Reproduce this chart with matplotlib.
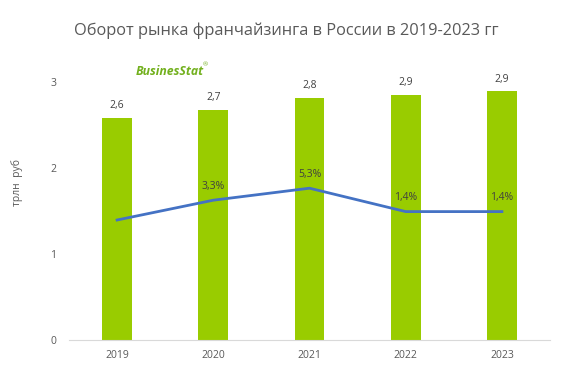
import numpy as np
import matplotlib.pyplot as plt

years = ['2019', '2020', '2021', '2022', '2023']
turnover = [2.58, 2.67, 2.81, 2.85, 2.89]
turnover_labels = ['2,6', '2,7', '2,8', '2,9', '2,9']
growth = [0.0, 3.3, 5.3, 1.4, 1.4]
growth_labels = ['', '3,3%', '5,3%', '1,4%', '1,4%']

plt.rcParams['font.family'] = ['Open Sans', 'DejaVu Sans']
txt = '#595959'

fig = plt.figure(figsize=(5.72, 3.86), dpi=100)
fig.set_facecolor('white')
ax = fig.add_axes([69 / 572, 46 / 386, 481 / 572, 258 / 386])

x = np.arange(len(years))
ax.bar(x, turnover, width=0.31, color='#99cc00', zorder=2)
ax.set_xlim(-0.5, len(years) - 0.5)
ax.set_ylim(0, 3)
ax.set_yticks([0, 1, 2, 3])
ax.set_xticks(x)
ax.set_xticklabels(years)
ax.tick_params(axis='both', length=0, labelsize=7.5, colors=txt)
ax.tick_params(axis='x', pad=7)
ax.tick_params(axis='y', pad=9)
for s in ['top', 'right', 'left']:
    ax.spines[s].set_visible(False)
ax.spines['bottom'].set_color('#d9d9d9')
ax.set_ylabel('трлн  руб', fontsize=7.5, color=txt)
ax.yaxis.set_label_coords(-0.095, 0.61)

for xi, v, lab in zip(x, turnover, turnover_labels):
    ax.annotate(lab, (xi, v), xytext=(0, 5), textcoords='offset points',
                ha='center', va='bottom', fontsize=7.5, color='#404040')

ax2 = ax.twinx()
ax2.plot(x, growth, color='#4472c4', linewidth=2, zorder=3)
ax2.set_ylim(-20, 23)
ax2.axis('off')
for xi, v, lab in zip(x, growth, growth_labels):
    ax2.annotate(lab, (xi, v), xytext=(0, 6), textcoords='offset points',
                 ha='center', va='bottom', fontsize=7.5, color='#404040')

fig.text(0.500, 0.920, 'Оборот рынка франчайзинга в России в 2019-2023 гг',
         ha='center', va='center', fontsize=11.8, color=txt)
fig.text(0.238, 0.815, 'BusinesStat', ha='left', va='center', fontsize=8.8,
         color='#72b01d', fontweight='bold', style='italic')
fig.text(0.355, 0.832, '®', ha='left', va='center', fontsize=4.5, color='#72b01d')

fig.savefig('out.png', dpi=100)
